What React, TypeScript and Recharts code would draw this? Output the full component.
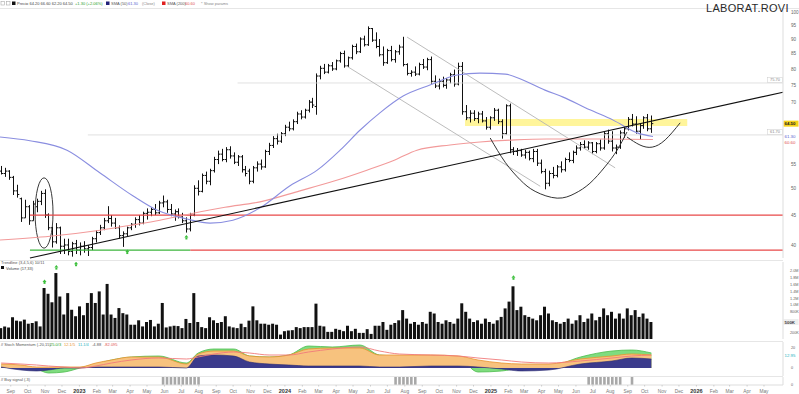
import React from 'react';
import { ComposedChart, Bar, Line, Area, XAxis, YAxis, ReferenceLine, ReferenceArea, Scatter } from 'recharts';

const FONT = '"Liberation Sans", Arial, sans-serif';
const X_DOMAIN: [number, number] = [-20.3, 178.4];
const FIRST_WEEK = -20; // weeks counted from the first week of 2023

// weekly bars: open, high, low, close
const ohlc: number[][] = [
  [53.5, 54.6, 52.8, 53.0], [53, 54.2, 52.3, 53.5], [53.5, 53.7, 51.7, 52.2], [52.2, 52.5, 48.7, 49.5],
  [49.5, 50.7, 48.2, 48.8], [48, 48.2, 43.8, 44.5], [44.5, 47.8, 44.5, 46.5], [46.5, 46.8, 43.3, 44.0],
  [44, 47.6, 44.0, 47.0], [46.5, 48.0, 45.5, 47.5], [47.5, 49.5, 46.8, 49.0], [49.0, 49.8, 44.5, 45.0],
  [45, 45.3, 42.4, 42.8], [42.8, 43.0, 39.6, 40.5], [40.5, 43.6, 40.2, 42.8], [42.8, 43.0, 38.6, 39.8],
  [39.8, 41.0, 38.6, 40.0], [40, 41.0, 38.4, 39.0], [39, 40.5, 38.2, 40.2], [40.2, 40.8, 38.6, 39.2],
  [39.2, 40.4, 38.4, 39.8], [39.8, 40.6, 38.8, 39.4], [39.4, 40.0, 38.3, 39.6], [39.6, 41.3, 39.2, 41.0],
  [41, 42.4, 40.4, 42.0], [42, 43.3, 41.6, 42.8], [42.8, 44.5, 42.4, 44.0], [44, 46.6, 43.6, 44.4],
  [44.4, 45.0, 43.0, 43.6], [43.6, 44.5, 42.6, 42.8], [42.8, 43.2, 41.0, 41.5], [41.5, 42.2, 39.7, 41.8],
  [41.8, 43.0, 41.4, 42.8], [42.8, 43.6, 42.4, 43.4], [43.4, 44.6, 42.8, 44.2], [44.2, 45.0, 43.2, 43.6],
  [43.6, 45.6, 43.4, 45.3], [45.3, 46.2, 44.2, 45.5], [45.5, 46.4, 44.8, 46.0], [46, 47.0, 45.0, 45.4],
  [45.4, 47.6, 45.2, 47.2], [47.2, 48.6, 46.4, 47.4], [47.4, 47.8, 45.4, 46.0], [46, 47.0, 44.8, 45.2],
  [45.2, 46.0, 44.0, 45.6], [45.6, 46.2, 44.4, 44.8], [44.8, 45.4, 43.6, 44.0], [44.0, 44.6, 42.0, 42.6],
  [42.6, 45.4, 42.2, 45.0], [45, 50.6, 44.8, 50.0], [50, 51.6, 48.6, 49.4], [49.4, 53.0, 49.2, 52.6],
  [52.6, 53.4, 50.8, 51.4], [51.4, 54.0, 50.6, 53.6], [53.6, 56.6, 53.2, 56.0], [56, 58.0, 55.0, 57.2],
  [57.2, 58.4, 55.6, 56.0], [56, 58.8, 55.4, 58.2], [58.2, 59.0, 56.2, 56.8], [56.8, 57.6, 55.0, 55.4],
  [55.4, 57.0, 54.6, 56.6], [56.6, 57.0, 53.2, 53.8], [53.8, 54.6, 52.4, 53.0], [53.5, 54.0, 50.8, 51.4],
  [51.4, 54.6, 51.0, 54.2], [54.2, 55.6, 53.4, 55.0], [55, 56.0, 53.8, 54.4], [54.4, 58.2, 54.2, 57.8],
  [57.8, 59.8, 57.0, 59.2], [59.2, 61.4, 58.6, 60.8], [60.8, 62.0, 59.4, 60.2], [60.2, 62.4, 59.8, 62.0],
  [62, 64.2, 61.4, 63.6], [63.6, 65.0, 62.6, 63.2], [63.2, 65.6, 62.8, 65.0], [65, 67.6, 64.4, 67.0],
  [67, 68.0, 65.6, 66.2], [66.2, 68.4, 65.8, 68.0], [68, 70.8, 67.4, 70.2], [70.2, 71.4, 68.6, 69.4],
  [69, 78.6, 66.8, 77.8], [77.8, 81.0, 76.8, 80.2], [80.2, 81.6, 78.4, 79.0], [79, 81.6, 78.6, 81.0],
  [81, 82.2, 79.4, 80.0], [80, 83.0, 79.6, 82.6], [82.6, 85.6, 82.0, 85.0], [85, 86.0, 80.4, 81.0],
  [81, 84.0, 80.6, 83.6], [83.6, 88.0, 83.0, 87.4], [87.4, 88.4, 84.8, 85.6], [85.6, 90.6, 85.2, 90.0],
  [90, 91.2, 87.4, 88.0], [88, 94.6, 87.6, 93.8], [93.8, 94.0, 89.0, 89.6], [89.6, 92.4, 86.8, 87.4],
  [87.4, 90.0, 84.0, 84.6], [84.6, 87.4, 81.0, 82.0], [82.0, 86.6, 81.6, 86.0], [86, 87.6, 82.4, 83.0],
  [83, 86.2, 82.0, 85.6], [85.6, 88.0, 84.6, 87.2], [87.2, 90.8, 80.8, 81.4], [81.4, 81.8, 78.0, 78.6],
  [78.6, 79.6, 77.6, 79.0], [79, 80.8, 77.8, 78.4], [78.4, 82.0, 78.0, 81.4], [81.4, 83.2, 80.0, 80.6],
  [80.6, 83.6, 79.6, 83.0], [83, 84.0, 75.4, 76.2], [76.2, 78.0, 74.2, 74.8], [74.8, 77.0, 73.8, 76.2],
  [76.2, 77.6, 74.4, 75.0], [75, 77.2, 74.0, 76.6], [76.6, 78.8, 75.6, 78.2], [78.2, 79.8, 74.6, 75.4],
  [75.4, 82.0, 75.0, 80.8], [80.8, 82.2, 66.8, 67.6], [67.6, 69.4, 65.4, 66.0], [66, 68.0, 64.8, 67.2],
  [67.2, 68.0, 65.2, 65.8], [65.8, 67.6, 64.6, 67.0], [67, 67.8, 64.8, 65.2], [65.2, 66.2, 63.0, 63.6],
  [63.6, 66.4, 63.0, 66.0], [66, 68.6, 65.2, 68.0], [68, 68.4, 64.4, 65.0], [65, 65.6, 60.8, 62.0],
  [62, 69.6, 61.8, 69.2], [69.2, 69.8, 57.4, 58.2], [58.2, 58.8, 57.0, 57.8], [57.8, 58.6, 56.8, 58.0],
  [58, 58.4, 56.6, 57.0], [57, 58.2, 56.2, 57.6], [57.6, 58.0, 55.8, 56.2], [56.2, 58.4, 55.4, 57.8],
  [57.8, 58.4, 54.6, 55.2], [55.2, 56.0, 53.0, 53.4], [53.4, 54.0, 49.8, 51.0], [51, 53.6, 50.4, 53.0],
  [53, 54.4, 52.0, 52.6], [52.6, 54.8, 52.2, 54.4], [54.4, 55.6, 53.2, 53.8], [53.8, 56.4, 53.4, 56.0],
  [56, 57.6, 55.4, 55.8], [55.8, 58.0, 55.2, 57.6], [57.6, 59.2, 57.0, 58.6], [58.6, 60.0, 58.0, 59.4],
  [59.4, 60.4, 58.4, 58.8], [58.8, 60.2, 58.2, 59.8], [59.8, 60.0, 57.2, 57.8], [57.8, 60.0, 57.4, 59.6],
  [59.6, 60.6, 58.0, 58.6], [58.6, 62.4, 58.2, 62.0], [62, 63.0, 59.6, 60.2], [60.2, 62.6, 57.8, 58.6],
  [58.6, 59.4, 57.2, 58.8], [58.8, 62.8, 58.4, 62.2], [62.2, 63.6, 61.0, 63.2], [63.2, 66.2, 62.8, 65.6],
  [65.6, 67.0, 63.8, 64.4], [64.4, 66.4, 62.0, 62.6], [62.6, 64.6, 60.6, 64.0], [64, 66.4, 63.2, 66.0],
  [66, 67.0, 62.6, 63.2], [63.2, 66.6, 62.2, 64.5],
];

// weekly volume, millions
const volume: number[] = [
  0.32, 0.37, 0.34, 0.64, 0.54, 0.52, 0.57, 0.45, 0.47, 0.52, 0.37, 1.50, 1.33, 1.08, 1.94, 1.25, 0.72, 1.35, 0.86, 0.67,
  0.96, 0.70, 1.06, 1.35, 1.06, 1.40, 0.72, 1.62, 0.72, 0.62, 0.91, 0.76, 0.72, 0.42, 0.42, 0.55, 0.37, 0.50, 0.56, 0.37,
  0.45, 1.06, 0.34, 0.37, 0.39, 0.38, 0.32, 0.59, 0.47, 1.35, 0.50, 0.35, 0.32, 0.64, 0.55, 0.47, 0.50, 0.67, 0.37, 0.34,
  0.32, 0.45, 0.35, 0.54, 0.96, 0.55, 0.45, 0.45, 0.42, 0.45, 0.42, 0.13, 0.23, 0.25, 0.26, 0.35, 0.32, 0.35, 0.35, 0.35,
  1.04, 0.39, 0.37, 0.21, 0.21, 0.30, 0.27, 0.23, 0.39, 0.23, 0.30, 0.18, 0.18, 0.29, 0.15, 0.39, 0.39, 0.50, 0.27, 0.42,
  0.47, 0.55, 0.85, 0.60, 0.45, 0.50, 0.42, 0.50, 0.45, 0.80, 0.75, 0.50, 0.45, 0.55, 0.50, 0.45, 0.60, 1.05, 0.80, 0.60,
  0.50, 0.55, 0.45, 0.60, 0.50, 0.45, 0.55, 0.65, 0.90, 1.10, 1.55, 0.85, 0.95, 0.70, 0.65, 0.60, 0.55, 0.70, 0.95, 0.75,
  0.55, 0.50, 0.45, 0.50, 0.60, 0.45, 0.55, 0.70, 0.50, 0.60, 0.75, 0.55, 0.65, 0.90, 0.70, 0.80, 0.60, 0.75, 0.60, 0.90,
  0.70, 0.85, 0.65, 0.75, 0.60, 0.50,
];

// moving averages (week, price)
const smaFast = [
  { w: -20.3, p: 61.2 }, { w: -12.7, p: 60.3 }, { w: -3.3, p: 58.1 }, { w: 5.1, p: 53.1 }, { w: 13.5, p: 48.5 },
  { w: 19.5, p: 45.9 }, { w: 27.2, p: 44.3 }, { w: 33.0, p: 43.6 }, { w: 38.8, p: 44.1 }, { w: 45.7, p: 46.3 },
  { w: 53.3, p: 50.5 }, { w: 60.2, p: 53.7 }, { w: 66.0, p: 58.1 }, { w: 71.1, p: 62.9 }, { w: 76.1, p: 67.3 },
  { w: 82.0, p: 71.9 }, { w: 88.8, p: 75.1 }, { w: 95.7, p: 78.1 }, { w: 101.5, p: 78.7 }, { w: 107.9, p: 78.4 },
  { w: 112.4, p: 76.6 }, { w: 118.0, p: 73.6 }, { w: 122.6, p: 71.6 }, { w: 129.4, p: 68.1 }, { w: 135.3, p: 65.4 },
  { w: 141.4, p: 62.2 }, { w: 145.4, p: 61.3 },
];
const smaSlow = [
  { w: -20.3, p: 40.8 }, { w: -7.6, p: 41.4 }, { w: 5.1, p: 42.4 }, { w: 13.5, p: 43.3 }, { w: 20.3, p: 44.1 },
  { w: 27.9, p: 45.2 }, { w: 36.8, p: 46.4 }, { w: 45.7, p: 47.4 }, { w: 55.8, p: 49.5 }, { w: 64.7, p: 51.5 },
  { w: 72.8, p: 53.7 }, { w: 79.9, p: 55.9 }, { w: 85.5, p: 58.1 }, { w: 93.9, p: 59.3 }, { w: 101.5, p: 60.0 },
  { w: 110.4, p: 60.5 }, { w: 118.5, p: 60.7 }, { w: 132.0, p: 60.7 }, { w: 145.4, p: 60.6 },
];

// drawn annotations
const cupCurve = [
  { w: 104.1, p: 60.95 }, { w: 107.9, p: 55.4 }, { w: 111.7, p: 51.7 }, { w: 115.5, p: 49.4 }, { w: 121.1, p: 48.1 },
  { w: 125.6, p: 49.0 }, { w: 129.4, p: 51.0 }, { w: 133.2, p: 54.4 }, { w: 136.3, p: 58.1 }, { w: 138.8, p: 62.4 },
];
const handleCurve = [
  { w: 138.8, p: 61.2 }, { w: 142.1, p: 59.3 }, { w: 145.2, p: 58.8 }, { w: 148.5, p: 60.5 }, { w: 152.3, p: 64.7 },
];
const trendLine = [{ x: -12.7, y: 38.0 }, { x: 178.4, y: 73.0 }];
const channelUpper = [{ x: 83.0, y: 90.7 }, { x: 135.8, y: 54.2 }];
const channelLower = [{ x: 67.3, y: 81.2 }, { x: 116.8, y: 50.4 }];
const supportHigh = 45.0;
const supportLow = 39.2;
const resistanceLines = [
  { from: 40, value: 75.7, label: '75.70' },
  { from: 2, value: 61.7, label: '61.70' },
];
const priceSignals = [{ w: 12, p: 38.9 }, { w: 27, p: 41.2 }];
const volumeSignals = [{ w: -9, v: 1.68 }, { w: -6, v: 2.1 }, { w: -1, v: 2.2 }, { w: 110, v: 1.8 }];

// momentum panel samples (week, orange, navy, green, red)
const momWeeks = [-20, -15, -11, -8, -4, 0, 4, 8, 13, 20, 27, 30, 34, 39, 43, 48, 53, 58, 64, 71, 76, 81, 89, 96, 101, 107, 112, 119, 127, 135, 140, 145];
const momOrange = [4, 3, 1, 1, 1, 1, 5, 8, 11, 11, 4, 14, 17, 17, 12, 11, 13, 19, 20, 20, 13, 13, 13, 12, 8, 5, 4, 4, 9, 12, 14, 13];
const momNavy = [1, -2, -3, -2, 0, 0, 1, 1, 1, 1, 0, 12, 13, 12, 6, 4, 3, 2, 2, 2, 1, 1, 2, 2, 1, -1, -3, -2, 4, 7, 10, 9];
const momGreen = [3, 2, -1, -5, -4, 0, 4, 8, 11, 12, 5, 15, 19, 19, 12, 11, 13, 22, 21, 23, 13, 12, 12, 10, -4, -3, 0, 1, 11, 17, 18, 15];
const momRed = [5, 4, 3, 2, 1, 0, 2, 5, 8, 10, 9, 11, 14, 16, 15, 13, 13, 16, 19, 21, 17, 14, 13, 12, 10, 8, 6, 5, 7, 10, 12, 13];

// flagged weeks in the lower signal strip
const signalWeeks = [21, 22, 23, 24, 25, 26, 27, 28, 29, 30, 80, 81, 82, 83, 84, 85, 129, 130, 131, 132, 133, 134, 135, 136, 137, 140];

const priceTicks = [40, 45, 50, 55, 70, 75, 80, 85, 90, 95, 100];
const volumeTicks = [0.2, 0.8, 1.0, 1.2, 1.4, 1.6, 1.8, 2.0];
const momTicks = [0, 20];
const monthNames = ['Jan', 'Feb', 'Mar', 'Apr', 'May', 'Jun', 'Jul', 'Aug', 'Sep', 'Oct', 'Nov', 'Dec'];
const firstMonth = { year: 2022, month: 8 };
const monthCount = 45;

const WEEK0 = Date.UTC(2023, 0, 2);
const monthTicks = Array.from({ length: monthCount }, (_, i) => {
  const m = firstMonth.month + i;
  const year = firstMonth.year + Math.floor(m / 12);
  const mm = m % 12;
  return { w: (Date.UTC(year, mm, 1) - WEEK0) / (7 * 86400000), label: mm === 0 ? String(year) : monthNames[mm] };
});

const priceData = ohlc.map(([o, h, l, c], i) => ({ w: FIRST_WEEK + i, o, h, l, c, range: [l, h] }));
const volumeData = volume.map((v, i) => ({ w: FIRST_WEEK + i, v }));
const momData = momWeeks.map((w, i) => ({ w, o: momOrange[i], n: momNavy[i], g: momGreen[i], r: momRed[i] }));
const signalData = signalWeeks.map((w) => ({ w, s: 1 }));
const lastClose = ohlc[ohlc.length - 1][3];
const lastVolume = volume[volume.length - 1];

const OhlcShape = (props: any) => {
  const { x, y, width, height, payload } = props;
  if (!payload || height == null || isNaN(y)) return null;
  const cx = Math.round(x + width / 2) + 0.5;
  const lh = Math.log(payload.h);
  const ll = Math.log(payload.l);
  const span = lh - ll || 1;
  const yo = y + (height * (lh - Math.log(payload.o))) / span;
  const yc = y + (height * (lh - Math.log(payload.c))) / span;
  return (
    <g stroke="#111" strokeWidth={1}>
      <line x1={cx} x2={cx} y1={y} y2={y + height} />
      <line x1={cx - 1.8} x2={cx} y1={yo} y2={yo} />
      <line x1={cx} x2={cx + 1.8} y1={yc} y2={yc} />
    </g>
  );
};

const GreenArrow = (props: any) => {
  const { cx, cy } = props;
  if (cx == null) return null;
  return (
    <g fill="#3cbf3c">
      <path d={`M${cx},${cy - 2.5} L${cx + 2},${cy} L${cx - 2},${cy} Z`} />
      <rect x={cx - 1} y={cy} width={2} height={2} />
    </g>
  );
};

const tagLabel = (text: string, color: string, opts: { box?: string; dy?: number; inside?: boolean } = {}) => (p: any) => {
  const vb = p.viewBox || {};
  const right = vb.x + vb.width;
  const y = vb.y + (opts.dy || 0);
  if (opts.inside) {
    return (
      <g>
        <rect x={right - 15.5} y={y - 5.5} width={15} height={5} fill="#fff" stroke="#ccc" strokeWidth={0.5} />
        <text x={right - 8} y={y - 1.5} fontSize={4} textAnchor="middle" fill="#888" fontFamily={FONT}>{text}</text>
      </g>
    );
  }
  return (
    <g>
      {opts.box && <rect x={right + 0.5} y={y - 3} width={15} height={6} fill={opts.box} />}
      <text x={right + 1.5} y={y + 1.6} fontSize={4.4} fontWeight={opts.box ? 'bold' : 'normal'} fill={color} fontFamily={FONT}>{text}</text>
    </g>
  );
};

const MonthTick = (props: any) => {
  const { x, y, payload } = props;
  const t = monthTicks.find((m) => Math.abs(m.w - payload.value) < 1e-6);
  const label = t ? t.label : '';
  const isYear = /^\d{4}$/.test(label);
  return (
    <text x={x} y={y + 4.5} textAnchor="middle" fontSize={isYear ? 5.5 : 4.8} fontWeight={isYear ? 'bold' : 'normal'} fill={isYear ? '#333' : '#777'} fontFamily={FONT}>
      {label}
    </text>
  );
};

const axisTick = { fontSize: 4.6, fill: '#666', fontFamily: FONT };
const smallTick = { fontSize: 3.8, fill: '#666', fontFamily: FONT };

export default function App() {
  return (
    <div style={{ position: 'absolute', left: 0, top: 0, width: 799, height: 394, background: '#fff', overflow: 'hidden', fontFamily: FONT }}>
      {/* price panel */}
      <div style={{ position: 'absolute', left: 0, top: 0 }}>
        <ComposedChart width={799} height={260} data={priceData} margin={{ top: 9, right: 0, bottom: 2, left: 0 }}>
          <XAxis dataKey="w" type="number" domain={X_DOMAIN} allowDataOverflow hide />
          <YAxis orientation="right" width={16} scale="log" domain={[38, 101.3]} allowDataOverflow ticks={priceTicks} interval={0}
            tick={axisTick} tickLine={false} axisLine={{ stroke: '#ddd' }} tickMargin={2} />
          <ReferenceArea x1={97.7} x2={154.1} y1={63.9} y2={65.7} fill="#fff38a" fillOpacity={0.85} stroke="none" ifOverflow="visible" />
          {resistanceLines.map((r) => (
            <ReferenceLine key={r.label} segment={[{ x: r.from, y: r.value }, { x: X_DOMAIN[1], y: r.value }]} stroke="#d8d8d8" strokeWidth={0.8}
              ifOverflow="visible" label={tagLabel(r.label, '#888', { inside: true })} />
          ))}
          <ReferenceLine segment={[{ x: -12.7, y: supportHigh }, { x: X_DOMAIN[1], y: supportHigh }]} stroke="#e84848" strokeWidth={1.3} ifOverflow="visible" />
          <ReferenceLine segment={[{ x: -12.7, y: supportLow }, { x: 28, y: supportLow }]} stroke="#3cb43c" strokeWidth={1.3} ifOverflow="visible" />
          <ReferenceLine segment={[{ x: 28, y: supportLow }, { x: X_DOMAIN[1], y: supportLow }]} stroke="#e84848" strokeWidth={1.3} ifOverflow="visible" />
          <ReferenceLine segment={channelUpper} stroke="#b4b4b4" strokeWidth={0.9} ifOverflow="visible" />
          <ReferenceLine segment={channelLower} stroke="#b4b4b4" strokeWidth={0.9} ifOverflow="visible" />
          <Line data={smaSlow} dataKey="p" type="monotone" stroke="#f29a9a" strokeWidth={1.1} dot={false} isAnimationActive={false} />
          <Line data={smaFast} dataKey="p" type="monotone" stroke="#8a8ee0" strokeWidth={1.1} dot={false} isAnimationActive={false} />
          <ReferenceLine segment={trendLine} stroke="#111" strokeWidth={1.1} ifOverflow="visible" />
          <Bar dataKey="range" barSize={3} shape={<OhlcShape />} isAnimationActive={false} />
          <Line data={cupCurve} dataKey="p" type="natural" stroke="#333" strokeWidth={1} dot={false} isAnimationActive={false} />
          <Line data={handleCurve} dataKey="p" type="natural" stroke="#333" strokeWidth={1} dot={false} isAnimationActive={false} />
          <ReferenceArea x1={-11.4} x2={-6.85} y1={39.5} y2={52.1} ifOverflow="visible"
            shape={(p: any) => (
              <ellipse cx={p.x + p.width / 2} cy={p.y + p.height / 2} rx={p.width / 2} ry={p.height / 2} fill="none" stroke="#222" strokeWidth={0.9} />
            )} />
          <Scatter data={priceSignals} dataKey="p" shape={<GreenArrow />} isAnimationActive={false} />
          <ReferenceLine y={lastClose} stroke="none" ifOverflow="visible" label={tagLabel(lastClose.toFixed(2), '#222', { box: '#f6d21a' })} />
          <ReferenceLine y={smaFast[smaFast.length - 1].p} stroke="none" ifOverflow="visible" label={tagLabel('61.30', '#5b5fd0', { dy: 0 })} />
          <ReferenceLine y={smaSlow[smaSlow.length - 1].p} stroke="none" ifOverflow="visible" label={tagLabel('60.60', '#e05050', { dy: 2.5 })} />
        </ComposedChart>
      </div>

      {/* volume panel */}
      <div style={{ position: 'absolute', left: 0, top: 260 }}>
        <ComposedChart width={799} height={80} data={volumeData} margin={{ top: 2, right: 0, bottom: 1, left: 0 }}>
          <XAxis dataKey="w" type="number" domain={X_DOMAIN} allowDataOverflow hide />
          <YAxis orientation="right" width={16} domain={[0, 2.265]} allowDataOverflow ticks={volumeTicks} interval={0}
            tick={smallTick} tickLine={false} axisLine={{ stroke: '#ddd' }} tickMargin={1}
            tickFormatter={(v: number) => (v >= 1 ? v.toFixed(1) + 'M' : (v * 1000).toFixed(0) + 'K')} />
          <Bar dataKey="v" barSize={3} fill="#111" isAnimationActive={false} />
          <Scatter data={volumeSignals} dataKey="v" shape={<GreenArrow />} isAnimationActive={false} />
          <ReferenceLine y={lastVolume} stroke="none" ifOverflow="visible"
            label={tagLabel((lastVolume * 1000).toFixed(0) + 'K', '#444', { box: '#eeeeee' })} />
        </ComposedChart>
      </div>

      {/* momentum panel */}
      <div style={{ position: 'absolute', left: 0, top: 342 }}>
        <ComposedChart width={799} height={34} data={momData} margin={{ top: 0, right: 0, bottom: 0, left: 0 }}>
          <XAxis dataKey="w" type="number" domain={X_DOMAIN} allowDataOverflow hide />
          <YAxis orientation="right" width={16} domain={[-8, 26]} allowDataOverflow ticks={momTicks} interval={0}
            tick={smallTick} tickLine={false} axisLine={{ stroke: '#ddd' }} tickMargin={2} />
          <Area dataKey="g" type="monotone" baseValue={0} fill="#7fdc7f" fillOpacity={1} stroke="#4cbc4c" strokeWidth={0.8} isAnimationActive={false} />
          <Area dataKey="o" type="monotone" baseValue={0} fill="#f7c27e" fillOpacity={1} stroke="#e8922e" strokeWidth={0.8} isAnimationActive={false} />
          <Area dataKey="n" type="monotone" baseValue={0} fill="#3b3b8c" fillOpacity={1} stroke="#2a2a70" strokeWidth={0.6} isAnimationActive={false} />
          <Line dataKey="r" type="monotone" stroke="#f07b7b" strokeWidth={0.9} dot={false} isAnimationActive={false} />
          <ReferenceLine y={momOrange[momOrange.length - 1]} stroke="none" ifOverflow="visible" label={tagLabel('12.95', '#2bb3c0')} />
        </ComposedChart>
      </div>

      {/* signal strip + time axis */}
      <div style={{ position: 'absolute', left: 0, top: 376 }}>
        <ComposedChart width={799} height={18} data={signalData} margin={{ top: 1, right: 0, bottom: 0, left: 0 }}>
          <XAxis dataKey="w" type="number" domain={X_DOMAIN} allowDataOverflow ticks={monthTicks.map((m) => m.w)} interval={0}
            height={9} tick={<MonthTick />} tickLine={{ stroke: '#ccc' }} tickSize={1.5} axisLine={{ stroke: '#ddd' }} />
          <YAxis orientation="right" width={16} domain={[0, 1]} ticks={[0]} tick={smallTick} tickLine={false} axisLine={{ stroke: '#ddd' }} />
          <Bar dataKey="s" barSize={2.6} fill="#a8a8a8" isAnimationActive={false} />
        </ComposedChart>
      </div>

      {/* texts and panel frames */}
      <svg width={799} height={394} style={{ position: 'absolute', left: 0, top: 0, pointerEvents: 'none' }} fontFamily={FONT}>
        <line x1={0} x2={799} y1={8.5} y2={8.5} stroke="#e6e6e6" />
        <line x1={0} x2={783} y1={260.5} y2={260.5} stroke="#e6e6e6" />
        <line x1={0} x2={783} y1={341.5} y2={341.5} stroke="#e6e6e6" />
        <line x1={0} x2={783} y1={376.5} y2={376.5} stroke="#e6e6e6" />
        <rect x={1} y={1.5} width={3.5} height={3.5} fill="none" stroke="#aaa" strokeWidth={0.6} />
        <rect x={6.5} y={1.5} width={3.5} height={3.5} fill="none" stroke="#aaa" strokeWidth={0.6} />
        <rect x={12} y={1.5} width={3.5} height={3.5} fill="#111" />
        <text x={17} y={5} fontSize={4} fill="#444">Precio 64.20 66.60 62.20 64.50</text>
        <text x={75} y={5} fontSize={4} fill="#2a9e2a">+1.30 (+2.06%)</text>
        <rect x={106} y={1.5} width={3.5} height={3.5} fill="#22227a" />
        <text x={111} y={5} fontSize={4} fill="#555">SMA (50)</text>
        <text x={128} y={5} fontSize={4} fill="#5b5fd0">61.30</text>
        <text x={142} y={5} fontSize={4} fill="#888">(Close)</text>
        <rect x={162} y={1.5} width={3.5} height={3.5} fill="#e02020" />
        <text x={167} y={5} fontSize={4} fill="#555">SMA (200)</text>
        <text x={185} y={5} fontSize={4} fill="#e05050">60.60</text>
        <text x={201} y={5} fontSize={4} fill="#888">* Show params</text>
        <text x={706} y={12} fontSize={11} fill="#2a2a2a" letterSpacing={0.3}>LABORAT.ROVI</text>
        <text x={1} y={264} fontSize={4} fill="#555">Trendline (3,4,5,6) 10/11</text>
        <rect x={1} y={266} width={3} height={3} fill="#111" />
        <text x={6} y={269.5} fontSize={4} fill="#444">Volume (17,33)</text>
        <text x={1} y={346} fontSize={4} fill="#555">// Stoch Momentum (-20,15)</text>
        <text x={50} y={346} fontSize={4} fill="#2a9e2a">25.0/3</text>
        <text x={64} y={346} fontSize={4} fill="#e8922e">12.1/5</text>
        <text x={78} y={346} fontSize={4} fill="#2bb3c0">11.1/4</text>
        <text x={92} y={346} fontSize={4} fill="#555">-4.88</text>
        <text x={104} y={346} fontSize={4} fill="#e05050">-82.095</text>
        <text x={1} y={381} fontSize={4} fill="#555">// Buy signal (-3)</text>
      </svg>
    </div>
  );
}
